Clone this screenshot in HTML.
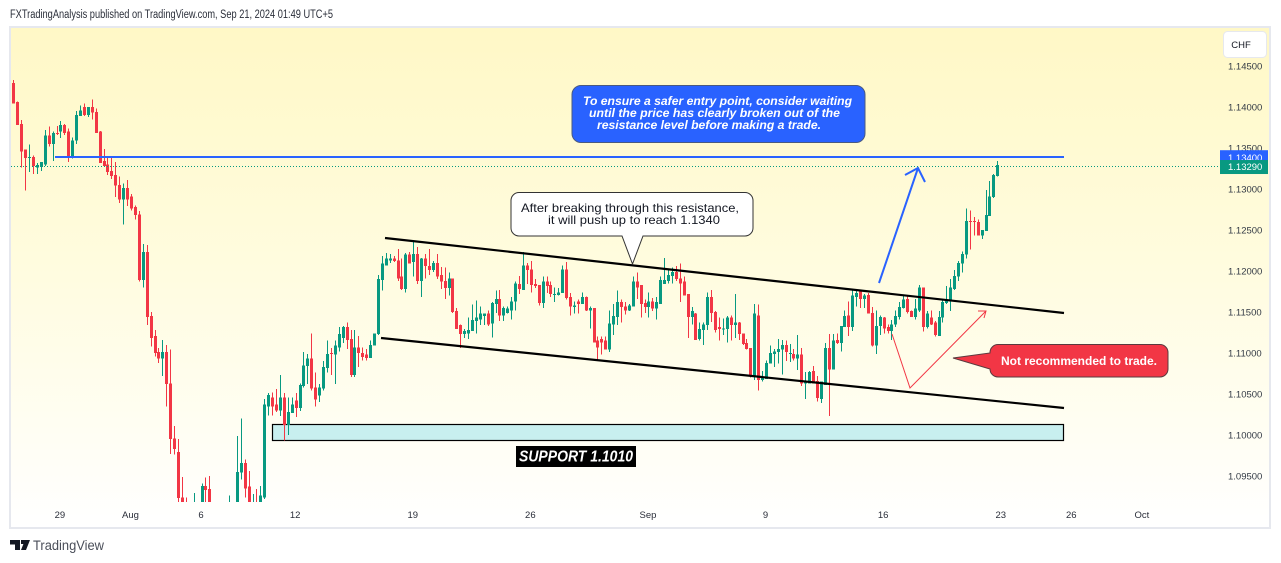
<!DOCTYPE html>
<html>
<head>
<meta charset="utf-8">
<title>FXTradingAnalysis chart</title>
<style>
html,body{margin:0;padding:0;background:#fff;width:1281px;height:563px;overflow:hidden}
svg{display:block;font-family:"Liberation Sans",sans-serif}
</style>
</head>
<body>
<svg id="chart" xmlns="http://www.w3.org/2000/svg" width="1281" height="563" viewBox="0 0 1281 563">
<defs>
<linearGradient id="bgGrad" x1="0" y1="0" x2="0" y2="1">
<stop offset="0" stop-color="#fff8c6"/>
<stop offset="0.5" stop-color="#fffce0"/>
<stop offset="1" stop-color="#ffffff"/>
</linearGradient>
<clipPath id="plotClip"><rect x="11" y="28" width="1207" height="474"/></clipPath>
</defs>
<text x="10" y="18" font-size="11.5" fill="#2a2e39" textLength="323" lengthAdjust="spacingAndGlyphs">FXTradingAnalysis published on TradingView.com, Sep 21, 2024 01:49 UTC+5</text>
<rect x="10" y="27" width="1260" height="501" fill="url(#bgGrad)" stroke="#e6e8ee" stroke-width="2"/>
<rect x="272.5" y="424.5" width="791" height="16" fill="#c8efef" stroke="#000" stroke-width="1.2"/>
<g id="candles" clip-path="url(#plotClip)"></g>
<g id="priceAxis"></g>
<g id="timeAxis"></g>
<line id="lastLine" x1="11" x2="1218" stroke="#089981" stroke-width="1" stroke-dasharray="1 2"/>
<line id="resLine" x1="55" x2="1064" stroke="#2962ff" stroke-width="2"/>
<line x1="385" y1="238" x2="1064" y2="313" stroke="#000" stroke-width="2.2"/>
<line x1="381" y1="338" x2="1064" y2="408" stroke="#000" stroke-width="2.2"/>
<rect x="516" y="446" width="120" height="21" fill="#000"/>
<text x="576" y="461.5" font-size="16" font-weight="bold" font-style="italic" fill="#fff" text-anchor="middle" textLength="114" lengthAdjust="spacingAndGlyphs">SUPPORT 1.1010</text>
<path d="M519 192.5H745a8 8 0 0 1 8 8V228a8 8 0 0 1-8 8H643L632.500 264L622 236H519a8 8 0 0 1-8-8V200.500a8 8 0 0 1 8-8Z" fill="#fff" stroke="#333" stroke-width="1"/>
<text x="630" y="212" font-size="12" fill="#131722" text-anchor="middle" textLength="218" lengthAdjust="spacingAndGlyphs">After breaking through this resistance,</text>
<text x="634" y="224" font-size="12" fill="#131722" text-anchor="middle" textLength="172" lengthAdjust="spacingAndGlyphs">it will push up to reach 1.1340</text>
<rect x="572" y="85.500" width="293" height="57" rx="9" fill="#2962ff" stroke="#4a5a80" stroke-width="1"/>
<text x="717.500" y="105" font-size="12" font-weight="bold" font-style="italic" fill="#fff" text-anchor="middle" textLength="269" lengthAdjust="spacingAndGlyphs">To ensure a safer entry point, consider waiting</text>
<text x="714.500" y="117" font-size="12" font-weight="bold" font-style="italic" fill="#fff" text-anchor="middle" textLength="251" lengthAdjust="spacingAndGlyphs">until the price has clearly broken out of the</text>
<text x="709" y="129" font-size="12" font-weight="bold" font-style="italic" fill="#fff" text-anchor="middle" textLength="224" lengthAdjust="spacingAndGlyphs">resistance level before making a trade.</text>
<path d="M998 344.500H1160a8 8 0 0 1 8 8V369a8 8 0 0 1-8 8H998a8 8 0 0 1-8-8L953 358L990 353V352.500a8 8 0 0 1 8-8Z" fill="#f23645" stroke="#5a3a3e" stroke-width="1"/>
<text x="1079" y="365" font-size="12" font-weight="bold" fill="#fff" text-anchor="middle" textLength="156" lengthAdjust="spacingAndGlyphs">Not recommended to trade.</text>
<path d="M879 283L918 168M905 175L918 168L925 182" fill="none" stroke="#2962ff" stroke-width="2"/>
<path d="M892 334L910 388L986 311M978 311L986 311L984 318" fill="none" stroke="#f23645" stroke-width="1"/>
<g id="priceTags"></g>
<rect x="1223.500" y="31.500" width="43" height="26" rx="4" fill="#fff" stroke="#e6e8ee" stroke-width="1"/>
<text x="1241" y="48" font-size="9.500" fill="#131722" text-anchor="middle">CHF</text>
<path d="M10 540H20V550H15V544.500H10ZM21 540h3.500a1.800 1.800 0 1 1 0 4h-3.500ZM25 540H30L26 550H21Z" fill="#131722"/>
<text x="33" y="550" font-size="13.500" fill="#4a4e59" textLength="71" lengthAdjust="spacingAndGlyphs">TradingView</text>
</svg>
<script>
// OHLC values, in pips (price x 10000)
var opens = [
11429,11406,11379,11348,11338,11339,11326,11327,11330,11365,11355,11368,
11370,11378,11370,11339,11359,11389,11400,11390,11400,11394,11370,11334,
11330,11322,11317,11305,11287,11301,11291,11278,11269,11189,11223,11145,
11121,11101,11093,11101,11063,10996,10979,10924,10908,10895,10900,10915,
10908,10938,10934,10908,10900,10906,10898,10900,10912,10908,10954,10966,
10937,10902,10912,10908,10924,11035,11046,11037,11030,11046,11012,11027,
11042,11033,11060,11084,11093,11058,11048,11057,11082,11100,11098,11107,
11118,11132,11117,11073,11107,11100,11098,11094,11109,11123,11189,11207,
11213,11215,11213,11193,11178,11220,11211,11221,11188,11215,11206,11201,
11210,11195,11188,11179,11191,11151,11134,11123,11124,11127,11139,11141,
11145,11148,11136,11160,11166,11146,11149,11152,11163,11184,11177,11207,
11202,11184,11183,11161,11187,11183,11171,11171,11173,11202,11168,11156,
11163,11160,11168,11152,11155,11115,11117,11115,11104,11135,11144,11162,
11157,11152,11157,11187,11183,11161,11156,11163,11154,11160,11184,11188,
11194,11199,11191,11187,11172,11144,11148,11117,11128,11134,11168,11150,
11132,11129,11129,11143,11134,11137,11124,11112,11106,11072,11146,11067,
11068,11087,11099,11101,11104,11110,11099,11099,11093,11098,11063,11063,
11078,11066,11044,11061,11106,11080,11116,11112,11132,11146,11132,11168,
11177,11166,11171,11149,11109,11133,11143,11132,11127,11135,11144,11155,
11166,11151,11144,11152,11180,11132,11143,11137,11121,11143,11161,11163,
11178,11193,11209,11220,11261,11261,11260,11243,11249,11267,11290,11316
];
var closes = [
11404,11378,11346,11338,11339,11328,11329,11333,11365,11355,11368,11367,
11378,11368,11339,11359,11390,11396,11390,11400,11393,11368,11332,11328,
11321,11316,11304,11287,11301,11287,11276,11268,11189,11223,11144,11118,
11100,11093,11101,11062,10995,10983,10923,10908,10903,10905,10910,10905,
10938,10933,10908,10900,10908,10898,10908,10910,10902,10955,10966,10935,
10908,10912,10905,10926,11037,11049,11035,11030,11046,11012,11028,11037,
11033,11061,11085,11093,11057,11043,11058,11083,11099,11099,11109,11123,
11132,11116,11073,11107,11100,11095,11094,11110,11124,11190,11209,11215,
11215,11212,11191,11178,11220,11209,11221,11188,11215,11206,11201,11210,
11193,11187,11179,11191,11150,11129,11123,11127,11128,11140,11143,11148,
11148,11135,11161,11166,11146,11155,11154,11163,11185,11178,11207,11201,
11183,11182,11161,11187,11182,11172,11172,11174,11202,11167,11157,11158,
11160,11168,11152,11155,11113,11107,11113,11104,11136,11145,11162,11156,
11152,11158,11187,11180,11160,11156,11163,11154,11162,11189,11189,11195,
11199,11190,11185,11170,11144,11151,11116,11129,11135,11168,11149,11128,
11129,11130,11143,11134,11137,11123,11111,11105,11072,11148,11067,11071,
11088,11100,11102,11105,11110,11101,11100,11093,11098,11063,11065,11077,
11063,11045,11065,11106,11080,11115,11112,11133,11145,11132,11170,11173,
11166,11170,11148,11109,11133,11144,11130,11127,11135,11145,11156,11165,
11150,11144,11154,11180,11132,11148,11135,11122,11144,11162,11165,11180,
11194,11210,11221,11261,11260,11260,11243,11250,11268,11291,11317,11329
];
var highs = [
11433,11407,11384,11348,11354,11341,11332,11333,11372,11376,11370,11377,
11383,11379,11374,11363,11395,11402,11404,11400,11409,11398,11371,11349,
11338,11338,11333,11315,11307,11311,11294,11280,11273,11233,11232,11150,
11128,11106,11116,11110,11104,11011,10995,10949,10924,10912,10929,10918,
10941,10948,10950,10915,10912,10912,10915,10926,10916,10999,11020,10970,
10956,10928,10934,10938,11044,11051,11052,11056,11073,11051,11046,11046,
11051,11063,11101,11099,11124,11076,11062,11090,11115,11106,11115,11132,
11133,11137,11128,11128,11121,11107,11105,11115,11124,11195,11218,11222,
11221,11218,11227,11215,11222,11223,11237,11229,11216,11221,11227,11212,
11221,11205,11204,11198,11191,11155,11135,11129,11143,11159,11164,11157,
11148,11152,11162,11176,11177,11157,11157,11168,11187,11194,11223,11210,
11212,11190,11183,11193,11193,11187,11180,11179,11207,11211,11173,11163,
11165,11174,11169,11157,11155,11120,11120,11120,11152,11160,11176,11165,
11162,11160,11193,11198,11183,11165,11174,11167,11168,11193,11216,11201,
11204,11206,11209,11193,11172,11156,11149,11137,11137,11174,11177,11151,
11143,11142,11145,11146,11172,11138,11124,11117,11106,11160,11159,11078,
11091,11109,11105,11117,11116,11115,11111,11105,11122,11106,11077,11078,
11084,11072,11065,11112,11123,11123,11124,11133,11152,11163,11177,11176,
11177,11172,11173,11156,11152,11146,11144,11135,11140,11152,11162,11171,
11170,11152,11166,11183,11180,11151,11152,11139,11151,11165,11182,11190,
11201,11212,11224,11276,11274,11266,11263,11250,11299,11310,11318,11334
];
var lows = [
11404,11378,11326,11298,11321,11318,11318,11322,11328,11352,11334,11366,
11362,11366,11333,11337,11355,11389,11389,11388,11385,11368,11332,11328,
11317,11312,11290,11283,11257,11279,11274,11263,11187,11180,11134,11108,
11096,11088,11072,11035,10977,10976,10918,10903,10897,10890,10895,10900,
10900,10908,10903,10895,10895,10892,10892,10895,10898,10900,10946,10924,
10903,10898,10900,10903,10922,11024,11024,11028,11023,10993,11000,11027,
11022,11029,11058,11062,11054,11035,11040,11054,11076,11073,11062,11102,
11112,11105,11071,11071,11083,11091,11091,11094,11109,11122,11176,11207,
11210,11211,11188,11177,11174,11209,11193,11184,11168,11191,11195,11199,
11190,11178,11166,11170,11149,11129,11106,11118,11117,11127,11124,11134,
11134,11133,11119,11149,11139,11139,11148,11141,11152,11172,11177,11184,
11174,11179,11158,11155,11173,11168,11162,11170,11173,11165,11146,11148,
11148,11160,11151,11130,11113,11090,11098,11104,11101,11122,11134,11137,
11147,11151,11157,11166,11143,11149,11143,11151,11141,11160,11184,11185,
11185,11188,11162,11170,11118,11135,11116,11115,11110,11128,11138,11125,
11115,11122,11113,11115,11118,11116,11110,11104,11070,11067,11054,11065,
11068,11087,11083,11087,11074,11090,11089,11091,11079,11060,11044,11063,
11063,11041,11039,11061,11023,11080,11111,11102,11132,11121,11127,11157,
11155,11155,11148,11108,11099,11122,11124,11124,11116,11132,11141,11154,
11148,11144,11141,11150,11126,11130,11134,11120,11121,11137,11160,11151,
11177,11188,11198,11215,11226,11243,11243,11239,11249,11267,11289,11315
];
var priceTicks = [1.145,1.14,1.135,1.13,1.125,1.12,1.115,1.11,1.105,1.1,1.095];
var timeLabels = ['29','Aug','6','12','19','26','Sep','9','16','23','26','Oct'];
var timeIndexes = [12,30,48,72,102,132,162,192,222,252,270,288];
var lastPrice = 1.1329;
var resistancePrice = 1.134;

var NS = 'http://www.w3.org/2000/svg';
function yScale(p){ return 66 + (1.145 - p) * 8200; }
function xScale(i){ return 13.4 + 3.92 * i; }
function make(tag, attrs, parent){
  var el = document.createElementNS(NS, tag);
  for (var k in attrs) el.setAttribute(k, attrs[k]);
  parent.appendChild(el);
  return el;
}
var cG = document.getElementById('candles');
for (var i = 0; i < opens.length; i++) {
  var o = opens[i]/10000, c = closes[i]/10000, h = highs[i]/10000, l = lows[i]/10000;
  var col = c >= o ? '#089981' : '#f23645';
  var px = Math.round(xScale(i));
  var wick = make('rect', {x:px, y:yScale(h), width:1, height:Math.max(1,yScale(l)-yScale(h)), fill:col, 'shape-rendering':'crispEdges'}, cG);
  
  
  var bodyTop = yScale(Math.max(o,c));
  var body = make('rect', {x:px-1, y:bodyTop, width:3, height:Math.max(1,yScale(Math.min(o,c))-bodyTop), fill:col, 'shape-rendering':'crispEdges'}, cG);
  
  
}
var pG = document.getElementById('priceAxis');
priceTicks.forEach(function(p){
  var t = make('text', {x:1228, y:yScale(p)+3.5, 'font-size':9.5, fill:'#333a45'}, pG);
  t.textContent = p.toFixed(5);
  
  
});
var tG = document.getElementById('timeAxis');
timeLabels.forEach(function(s, n){
  var t = make('text', {x:xScale(timeIndexes[n])-0.5, y:518, 'font-size':9.5, fill:'#2a2e39', 'text-anchor':'middle'}, tG);
  t.textContent = s;
  
  
});
var ly = Math.round(yScale(lastPrice)) + 1.5;
var ll = document.getElementById('lastLine');
ll.setAttribute('y1', ly);
ll.setAttribute('y2', ly);
var ry = Math.round(yScale(resistancePrice)) + 1;
var rl = document.getElementById('resLine');
rl.setAttribute('y1', ry);
rl.setAttribute('y2', ry);
var tags = document.getElementById('priceTags');
var tagBoxes = [[resistancePrice,'#2962ff',-6,14,5],[lastPrice,'#089981',-5.2,14,5]];
tagBoxes.forEach(function(b){
  var cy = yScale(b[0]);
  var r = make('rect', {x:1220, y:cy+b[2], width:48, height:b[3], fill:b[1]}, tags);
  
  
  var t = make('text', {x:1228, y:cy+b[4], 'font-size':9.5, fill:'#fff'}, tags);
  t.textContent = b[0].toFixed(5);
  
  
});
</script>
</body>
</html>
